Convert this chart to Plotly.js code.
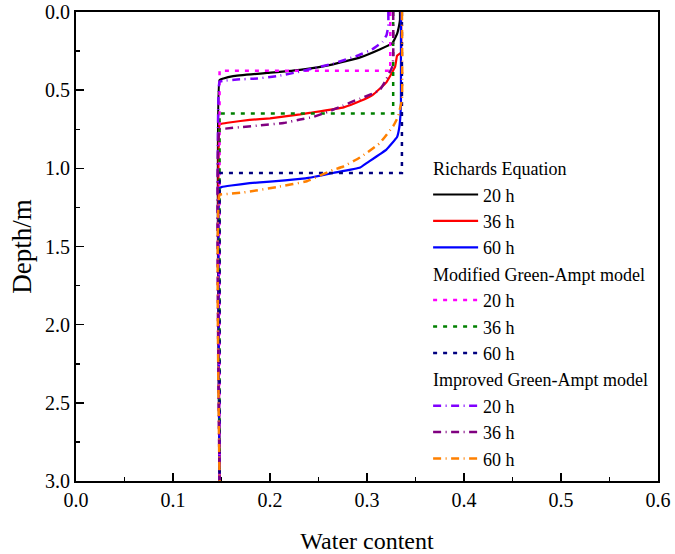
<!DOCTYPE html>
<html>
<head>
<meta charset="utf-8">
<script src="https://cdn.plot.ly/plotly-3.0.1.min.js"></script>
<style>html,body{margin:0;padding:0;background:#fff;}#chart{width:675px;height:554px;}</style>
</head>
<body>
<div id="chart"></div>
<script>
// Richards Equation
var rich20Theta = [0.334, 0.334, 0.333, 0.331, 0.326, 0.313, 0.293, 0.265, 0.231, 0.197, 0.162, 0.152, 0.148, 0.148];
var rich20Depth = [0, 0.05, 0.09, 0.14, 0.20, 0.24, 0.29, 0.335, 0.37, 0.39, 0.41, 0.425, 0.435, 3.0];
var rich36Theta = [0.335, 0.335, 0.331, 0.329, 0.320, 0.306, 0.293, 0.276, 0.241, 0.231, 0.200, 0.179, 0.160, 0.150, 0.148, 0.148];
var rich36Depth = [0, 0.26, 0.28, 0.35, 0.45, 0.53, 0.57, 0.61, 0.645, 0.655, 0.68, 0.69, 0.705, 0.715, 0.72, 3.0];
var rich60Theta = [0.335, 0.335, 0.334, 0.333, 0.331, 0.320, 0.300, 0.293, 0.265, 0.241, 0.231, 0.200, 0.179, 0.160, 0.150, 0.148, 0.148];
var rich60Depth = [0, 0.58, 0.70, 0.75, 0.80, 0.88, 0.965, 0.995, 1.03, 1.06, 1.068, 1.085, 1.095, 1.11, 1.12, 1.125, 3.0];
// Modified Green-Ampt model
var mod20Theta = [0.324, 0.324, 0.148, 0.148];
var mod20Depth = [0, 0.375, 0.375, 3.0];
var mod36Theta = [0.327, 0.327, 0.148, 0.148];
var mod36Depth = [0, 0.65, 0.65, 3.0];
var mod60Theta = [0.336, 0.336, 0.148, 0.148];
var mod60Depth = [0, 1.03, 1.03, 3.0];
// Improved Green-Ampt model
var imp20Theta = [0.322, 0.322, 0.320, 0.316, 0.305, 0.290, 0.265, 0.245, 0.228, 0.207, 0.187, 0.166, 0.152, 0.148, 0.148];
var imp20Depth = [0, 0.09, 0.15, 0.19, 0.24, 0.28, 0.33, 0.36, 0.385, 0.41, 0.425, 0.432, 0.44, 0.445, 3.0];
var imp36Theta = [0.327, 0.327, 0.326, 0.320, 0.313, 0.293, 0.286, 0.275, 0.259, 0.244, 0.231, 0.214, 0.190, 0.172, 0.154, 0.148, 0.148];
var imp36Depth = [0, 0.30, 0.35, 0.43, 0.50, 0.555, 0.57, 0.60, 0.64, 0.672, 0.688, 0.71, 0.725, 0.735, 0.746, 0.75, 3.0];
var imp60Theta = [0.336, 0.336, 0.332, 0.327, 0.313, 0.293, 0.275, 0.265, 0.241, 0.238, 0.207, 0.172, 0.155, 0.148, 0.148];
var imp60Depth = [0, 0.56, 0.67, 0.73, 0.84, 0.93, 0.99, 1.01, 1.075, 1.083, 1.12, 1.155, 1.165, 1.17, 3.0];

var seriesNames = ['20 h', '36 h', '60 h'];
var groupTitles = ['Richards Equation', 'Modified Green-Ampt model', 'Improved Green-Ampt model'];

var FONT = 'Times New Roman';
var DOT = '4px,6px';
var DASHDOT = '8px,4.5px,1px,4.5px';

function tr(x, y, name, group, gtitle, color, dash, width) {
  return {
    x: x, y: y, type: 'scatter', mode: 'lines', name: name,
    legendgroup: group, legendgrouptitle: {text: gtitle, font: {family: FONT, size: 18, color: '#000'}},
    line: {color: color, dash: dash, width: width, shape: 'spline', smoothing: 0.3},
    hoverinfo: 'skip'
  };
}

var data = [
  tr(rich20Theta, rich20Depth, seriesNames[0], 'r', groupTitles[0], '#000000', 'solid', 2.2),
  tr(rich36Theta, rich36Depth, seriesNames[1], 'r', groupTitles[0], '#ff0000', 'solid', 2.2),
  tr(rich60Theta, rich60Depth, seriesNames[2], 'r', groupTitles[0], '#0000ff', 'solid', 2.2),
  tr(mod20Theta, mod20Depth, seriesNames[0], 'm', groupTitles[1], '#ff00ff', DOT, 2.5),
  tr(mod36Theta, mod36Depth, seriesNames[1], 'm', groupTitles[1], '#008000', DOT, 2.5),
  tr(mod60Theta, mod60Depth, seriesNames[2], 'm', groupTitles[1], '#000080', DOT, 2.5),
  tr(imp20Theta, imp20Depth, seriesNames[0], 'i', groupTitles[2], '#8000ff', DASHDOT, 2.5),
  tr(imp36Theta, imp36Depth, seriesNames[1], 'i', groupTitles[2], '#800080', DASHDOT, 2.5),
  tr(imp60Theta, imp60Depth, seriesNames[2], 'i', groupTitles[2], '#ff8000', DASHDOT, 2.5)
];
for (var k = 3; k < 6; k++) { data[k].line.shape = 'linear'; }

var layout = {
  width: 675, height: 554,
  margin: {l: 76, r: 17, t: 12, b: 73},
  paper_bgcolor: '#fff', plot_bgcolor: '#fff',
  font: {family: FONT, size: 20, color: '#000'},
  showlegend: true,
  legend: {
    x: 0.605, y: 0.706, xanchor: 'left', yanchor: 'top',
    bgcolor: 'rgba(0,0,0,0)', borderwidth: 0,
    font: {family: FONT, size: 18, color: '#000'},
    traceorder: 'grouped', tracegroupgap: 0, itemwidth: 45
  },
  xaxis: {
    range: [0, 0.6], dtick: 0.1, tick0: 0, tickformat: '.1f',
    ticks: 'inside', ticklen: 8, tickwidth: 1.5, tickcolor: '#000',
    minor: {dtick: 0.05, ticks: 'inside', ticklen: 4, tickwidth: 1.5, tickcolor: '#000'},
    showline: true, linewidth: 2, linecolor: '#000', mirror: true,
    showgrid: false, zeroline: false,
    tickfont: {family: FONT, size: 20},
    title: {text: 'Water content', font: {family: FONT, size: 24}, standoff: 22}
  },
  yaxis: {
    range: [3, 0], dtick: 0.5, tick0: 0, tickformat: '.1f',
    ticks: 'inside', ticklen: 8, tickwidth: 1.5, tickcolor: '#000',
    minor: {dtick: 0.25, ticks: 'inside', ticklen: 4, tickwidth: 1.5, tickcolor: '#000'},
    showline: true, linewidth: 2, linecolor: '#000', mirror: true,
    showgrid: false, zeroline: false,
    tickfont: {family: FONT, size: 20},
    title: {text: 'Depth/m', font: {family: FONT, size: 27}, standoff: 6}
  }
};

Plotly.newPlot('chart', data, layout, {displayModeBar: false, staticPlot: true});
</script>
</body>
</html>
